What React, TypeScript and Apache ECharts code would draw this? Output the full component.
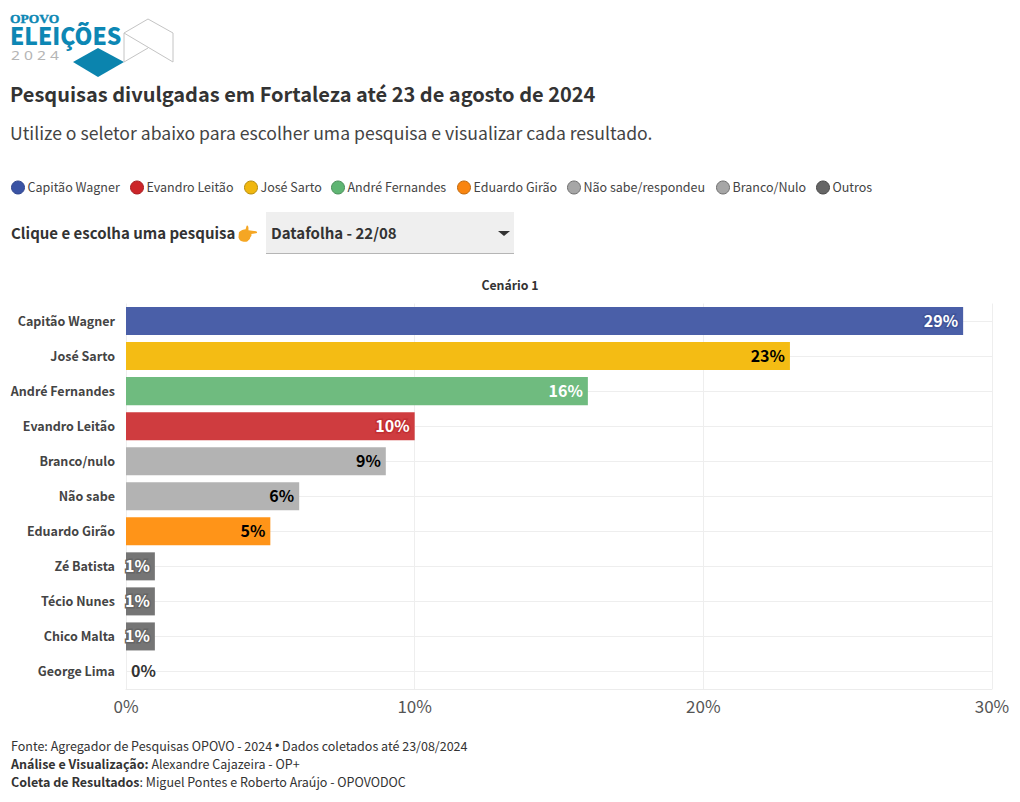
import React, { useEffect, useRef } from "react";
import * as echarts from "echarts";

const FONT = '"Noto Sans CJK SC", "Noto Sans", sans-serif';

const categories = ["Capitão Wagner", "José Sarto", "André Fernandes", "Evandro Leitão", "Branco/nulo", "Não sabe", "Eduardo Girão", "Zé Batista", "Técio Nunes", "Chico Malta", "George Lima"];
const values = [29, 23, 16, 10, 9, 6, 5, 1, 1, 1, 0];
const barColors = ["#4a5fa8", "#f4bc14", "#6fbb7f", "#cf3c3f", "#b3b3b3", "#b3b3b3", "#ff9418", "#757575", "#757575", "#757575", "#757575"];
const haloColors = ["#3f5399", "#f4bc14", "#6fbb7f", "#c22f33", "#b3b3b3", "#b3b3b3", "#ff9418", "#666666", "#666666", "#666666", "#757575"];
const labelColors = ["#fff", "#000", "#fff", "#fff", "#000", "#000", "#000", "#fff", "#fff", "#fff", "#333"];
const xTicks = [0, 10, 20, 30];

const legendNames = ["Capitão Wagner", "Evandro Leitão", "José Sarto", "André Fernandes", "Eduardo Girão", "Não sabe/respondeu", "Branco/Nulo", "Outros"];
const legendColors = ["#3a53a4", "#cc2529", "#f0b70f", "#5fb573", "#f98510", "#a6a6a6", "#a6a6a6", "#666666"];
const legendBorders = ["#33488f", "#a82024", "#b58c10", "#4d8f5c", "#c06a10", "#707070", "#707070", "#4a4a4a"];
const legendDotX = [18, 137, 251, 338, 464, 574, 723, 823];

registerShapes();
function registerShapes() {
  echarts.graphic.registerShape("pointHand", echarts.graphic.extendPath("M1 6 C3 4 6 3 8 3 L9 0 C10 -1 11 0 11 2 L11 4 L19 5 C20.5 5.5 20.5 7 19 7 L14 7.5 C14.5 9 14 10 13 10.5 C13 12 12 13 11 13.5 C10 15 8 15 6 15 C3 15 1 13 0.5 11 Z", {}));
}

const footBold = { b: { font: `bold 12.5px ${FONT}`, fill: "#333" }, s: { font: `12.5px "Liberation Sans", sans-serif`, fill: "#333" } };

const graphics: any[] = [
  { type: "text", x: 10, y: 11, style: { text: "OPOVO", font: `bold 13.5px "Liberation Serif", serif`, fill: "#0d87b4", stroke: "#0d87b4", lineWidth: 0.4 } },
  { type: "text", x: 10, y: 23, scaleX: 0.97, style: { text: "ELEIÇÕES", font: `900 23.5px "Noto Sans CJK SC", sans-serif`, fill: "#0d87b4" } },
  { type: "text", x: 11, y: 49, scaleX: 1.2, style: { text: "2 0 2 4", font: `13px "Noto Sans", sans-serif`, fill: "#b5b5b5" } },
  { type: "polygon", shape: { points: [[98, 48], [124, 62], [98, 77], [73, 62]] }, style: { fill: "#0b84ae" } },
  { type: "polyline", shape: { points: [[124, 33], [148, 19], [173, 33], [173, 62], [124, 33], [124, 62], [148, 48]] }, style: { fill: "none", stroke: "#c4c4c4", lineWidth: 1 } },

  { type: "text", x: 11, y: 225, style: { text: "Clique e escolha uma pesquisa", font: `bold 15px ${FONT}`, fill: "#333" } },
  { type: "pointHand", x: 238, y: 226, scaleX: 0.95, scaleY: 1.05, style: { fill: "#f5a623" } },
  { type: "rect", shape: { x: 266, y: 212, width: 248, height: 41 }, style: { fill: "#efefef" } },
  { type: "line", shape: { x1: 266, y1: 253.5, x2: 514, y2: 253.5 }, style: { stroke: "#b5b5b5", lineWidth: 1 } },
  { type: "text", x: 271, y: 225, style: { text: "Datafolha - 22/08", font: `bold 15px ${FONT}`, fill: "#333" } },
  { type: "polygon", shape: { points: [[498, 231], [510, 231], [504, 236]] }, style: { fill: "#333" } },

  { type: "text", x: 11, y: 739, style: { text: "Fonte: Agregador de Pesquisas OPOVO - 2024 {s|•} Dados coletados até 23/08/2024", font: `12.5px ${FONT}`, fill: "#333", rich: footBold } },
  { type: "text", x: 11, y: 757, style: { text: "{b|Análise e Visualização:} Alexandre Cajazeira - OP+", font: `12.5px ${FONT}`, fill: "#333", rich: footBold } },
  { type: "text", x: 11, y: 775, style: { text: "{b|Coleta de Resultados}: Miguel Pontes e Roberto Araújo - OPOVODOC", font: `12.5px ${FONT}`, fill: "#333", rich: footBold } },
];

legendNames.forEach((name, i) => {
  graphics.push({ type: "circle", shape: { cx: legendDotX[i], cy: 187.5, r: 6.5 }, style: { fill: legendColors[i], stroke: legendBorders[i], lineWidth: 1 } });
  graphics.push({ type: "text", x: legendDotX[i] + 9.5, y: 180, style: { text: name, font: `12.5px ${FONT}`, fill: "#444" } });
});

export default function App() {
  const ref = useRef<HTMLDivElement>(null);
  useEffect(() => {
    const chart = echarts.init(ref.current!, undefined, { renderer: "svg" });
    chart.setOption({
      animation: false,
      backgroundColor: "#fff",
      textStyle: { fontFamily: FONT },
      title: [
        { text: "Pesquisas divulgadas em Fortaleza até 23 de agosto de 2024", left: 10, top: 83, padding: 0, textStyle: { fontFamily: FONT, fontWeight: "bold", fontSize: 20, color: "#333" } },
        { text: "Utilize o seletor abaixo para escolher uma pesquisa e visualizar cada resultado.", left: 10, top: 124, padding: 0, textStyle: { fontFamily: FONT, fontWeight: "normal", fontSize: 17.6, color: "#444" } },
        { text: "Cenário 1", left: 510, top: 279, padding: 0, textAlign: "center", textStyle: { fontFamily: FONT, fontWeight: "bold", fontSize: 12.3, color: "#333" } },
      ],
      grid: { left: 126, right: 28, top: 303.5, height: 385.5, containLabel: false },
      xAxis: {
        type: "value", min: 0, max: 30, interval: 10,
        axisLine: { show: true, lineStyle: { color: "#ececec" } },
        axisTick: { show: false },
        axisLabel: { fontFamily: FONT, fontSize: 17, color: "#555", margin: 8, formatter: (v: number) => (xTicks.includes(v) ? `${v}%` : "") },
        splitLine: { show: true, lineStyle: { color: "#eeeeee", width: 1 } },
      },
      yAxis: {
        type: "category", data: categories, inverse: true,
        axisLine: { show: false }, axisTick: { show: false }, splitLine: { show: false },
        axisLabel: {
          margin: 11,
          formatter: (v: string) => `{a|${v}}`,
          rich: { a: { fontFamily: FONT, fontSize: 12.5, fontWeight: "bold", color: "#444", padding: [0, 0, 2, 0] } },
        },
      },
      series: [{
        type: "bar", z: 3, barCategoryGap: "20%",
        data: values.map((v, i) => ({
          value: v,
          itemStyle: { color: barColors[i] },
          label: {
            show: true,
            formatter: `${v}%`,
            position: v === 0 ? "right" : "insideRight",
            distance: 5,
            offset: [0, -1],
            fontFamily: FONT, fontSize: 16, fontWeight: "bold",
            color: labelColors[i],
            textBorderColor: v === 0 ? "transparent" : haloColors[i],
            textBorderWidth: v === 0 ? 0 : 3,
          },
        })),
        markLine: {
          silent: true, symbol: "none", z: 1, animation: false,
          label: { show: false },
          lineStyle: { color: "#eeeeee", width: 1, type: "solid" },
          data: categories.map((c) => ({ yAxis: c })),
        },
      }],
      graphic: { elements: graphics },
    });
    return () => chart.dispose();
  }, []);
  return <div ref={ref} style={{ position: "absolute", left: 0, top: 0, width: 1020, height: 802 }} />;
}
